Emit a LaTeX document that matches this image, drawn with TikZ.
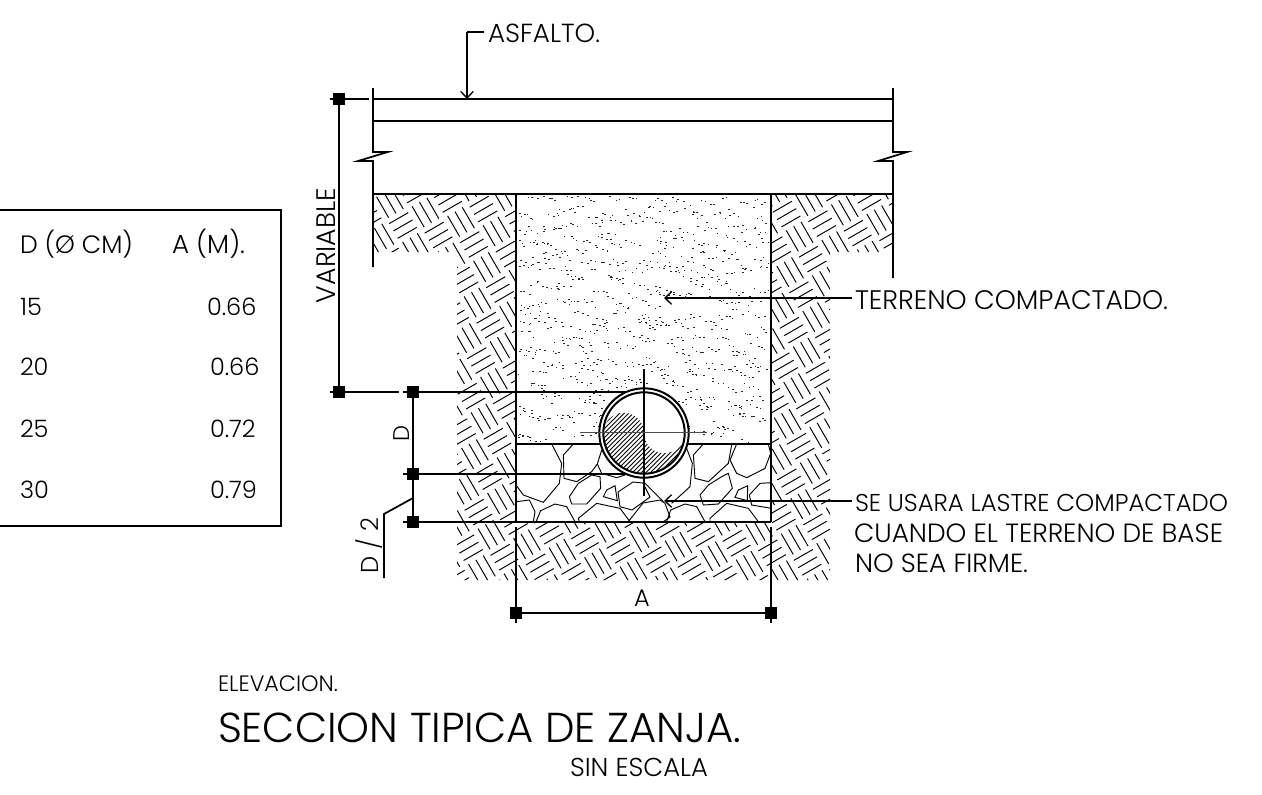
\documentclass[tikz,border=0pt]{standalone}
\usepackage{fontspec}
\usepackage{graphicx}
\setmainfont{Poppins Light}
\usetikzlibrary{arrows.meta}
\tikzset{
 px/.style={x=0.75pt,y=-0.75pt},
 med/.style={line width=1.3pt,line cap=butt},
 thick2/.style={line width=1.9pt},
 thin1/.style={line width=0.8pt},
 hatchln/.style={line width=0.72pt},
 rock/.style={line width=0.7pt,line join=miter},
 sq/.style={fill=black,minimum size=9pt,inner sep=0pt,outer sep=0pt},
 txt/.style={anchor=base west,inner sep=0pt,outer sep=0pt,text=black},
 barb/.style={-{Straight Barb[length=5pt,width=9.5pt,line width=1pt]}},
}
\newcommand{\fsz}[1]{\fontsize{#1}{#1}\selectfont}
\newcommand{\fit}[2]{\resizebox{\dimexpr #1pt*3/4\relax}{!}{\fsz{20}#2}}
\begin{document}
\begin{tikzpicture}[px]
\useasboundingbox (0,0) rectangle (1262,794);
\fill[white] (0,0) rectangle (1262,794);
% basket-weave soil hatch
\begin{scope}
\clip (373,194)--(516,194)--(516,522)--(771,522)--(771,194)--(893,194)--(893,252)--(830,252)--(830,580)--(457,580)--(457,252)--(373,252)--cycle;
\begin{scope}[shift={(663.3,390.4)},rotate=30]
\foreach \i in {-15,...,14}{\foreach \j in {-15,...,14}{
 \ifodd\numexpr\i+\j+100\relax
  \foreach \k in {4.5,13,21.5}{\draw[hatchln] (26*\i+2,26*\j+\k)--(26*\i+24,26*\j+\k);}
 \else
  \foreach \k in {4.5,13,21.5}{\draw[hatchln] (26*\i+\k,26*\j+1)--(26*\i+\k,26*\j+25);}
 \fi
}}
\end{scope}
\end{scope}
% compacted-soil speckle
\begin{scope}
\clip (518,196) rectangle (769,443);
\pgfmathsetseed{11}
\foreach \cxx in {0,1,...,16}{\foreach \cyy in {0,1,...,16}{
 \pgfmathsetmacro{\cx}{518+15*\cxx+8*rand}
 \pgfmathsetmacro{\cy}{196+15*\cyy+8*rand}
 \foreach \m in {1,...,4}{
  \pgfmathsetmacro{\dx}{(\m-2.5)*4+2.5*rand}
  \pgfmathsetmacro{\dy}{(\m-2.5)*1+3*rand}
  \fill[black!85] (\cx+\dx,\cy+\dy) rectangle +(1.6,1);
 }
}}
\end{scope}
% rocks, traced at 3x
\begin{scope}
\clip (516,444) rectangle (771,522);
\begin{scope}[shift={(510,440)},x=0.25pt,y=-0.25pt]
\draw[rock] (125,12)--(155,70)--(148,130)--(100,187)--(40,165)--(18,135);
\draw[rock] (190,12)--(160,45)--(162,115)--(200,125)--(245,95)--(262,72)--(275,30);
\draw[rock] (262,72)--(275,100)--(320,113)--(345,105);
\draw[rock] (245,105)--(270,110)--(272,145)--(230,192)--(185,192)--(178,170)--(205,130)--cycle;
\draw[rock] (315,137)--(322,182)--(280,170)--(290,150)--cycle;
\draw[rock] (20,185)--(58,180)--(75,215)--(70,245);
\draw[rock] (78,245)--(92,212)--(135,192)--(170,200)--(195,245);
\draw[rock] (208,245)--(205,235)--(260,190)--(330,205)--(360,245);
\draw[rock] (354,246)--(399,189)--(450,180)--(465,190)--(480,231)--(459,246);
\draw[rock] (369,126)--(399,129)--(420,171)--(366,210)--(330,200)--(324,156)--cycle;
\end{scope}
\begin{scope}[shift={(640,440)},x=0.25pt,y=-0.25pt]
\draw[rock] (15,130)--(70,185);
\draw[rock] (135,12)--(157,70)--(150,140)--(95,190);
\draw[rock] (190,12)--(160,45)--(165,115)--(205,125)--(265,70)--(275,15);
\draw[rock] (245,110)--(265,100)--(277,145)--(235,192)--(190,195)--(180,165)--(205,135)--cycle;
\draw[rock] (323,137)--(322,182)--(285,172)--(295,150)--cycle;
\draw[rock] (395,128)--(360,130)--(328,165)--(335,195)--(395,205);
\draw[rock] (290,12)--(270,60)--(290,100)--(320,113)--(375,85)--(392,40)--(385,12);
\draw[rock] (80,245)--(92,210)--(135,192)--(170,200)--(195,245);
\draw[rock] (210,245)--(210,235)--(260,190)--(325,205)--(355,245);
\end{scope}
\end{scope}
% road layers
\draw[med] (373,99)--(893,99);
\draw[med] (373,121)--(893,121);
\draw[med] (373,194)--(893,194);
\draw[med] (373,88)--(373,152)--(387.7,152)--(358,161)--(373,161)--(373,267);
\draw[med] (893,88)--(893,152)--(907,152)--(878,161)--(893,161)--(893,278);
% dimension squares
\node[sq] (sqtop) at (339,99) {};
\node[sq] (sqvar) at (339,392) {};
\node[sq] (sqd1) at (413,392) {};
\node[sq] (sqd2) at (413,474) {};
\node[sq] (sqd3) at (413,522) {};
\node[sq] (sqa1) at (516,613) {};
\node[sq] (sqa2) at (771,613) {};
\coordinate (toptickL) at (330,99); \coordinate (toptickR) at (369,99);
\coordinate (vartickL) at (330,392); \coordinate (vartickR) at (399,392);
\coordinate (d1L) at (403,392); \coordinate (d1R) at (632,392);
\coordinate (d2L) at (403,474); \coordinate (d2R) at (640,474);
\coordinate (d3L) at (403,522); \coordinate (d3R) at (516,522);
\draw[med] (toptickL)--(toptickR);
\draw[med] (sqtop.center)--(sqvar.center);
\draw[med] (vartickL)--(vartickR);
\draw[med] (d1L)--(d1R);
\draw[thick2] (d2L)--(d2R);
\draw[med] (d3L)--(d3R);
\draw[med] (sqd1.center)--(sqd3.center);
\draw[med] (sqa1.center)--(sqa2.center);
% trench
\draw[thick2] (516,194)--(516,522);
\draw[thick2] (771,194)--(771,522);
\draw[thick2] (516,522)--(771,522);
\draw[med] (516,444)--(771,444);
\draw[med] (516,527)--(516,623);
\draw[med] (771,527)--(771,623);
% D/2 leader
\coordinate (la) at (413,498); \coordinate (lb) at (384,514); \coordinate (lc) at (384,578);
\draw[med] (la)--(lb)--(lc);
% pipe
\coordinate (pipe) at (644,433);
\fill[white] (pipe) circle[radius=44.7];
\begin{scope}
\clip (603.5,433) arc[start angle=180,end angle=360,radius=20.25] arc[start angle=180,end angle=20,radius=20.25] -- (684.5,433) -- (684.5,490) -- (603.5,490) -- cycle;
\clip (pipe) circle[radius=40.5];
\foreach \s in {-60,-55.5,...,100}{\draw[line width=0.6pt] (604+\s,480)--(604+\s+70,410);}
\end{scope}
\draw[line width=1.5pt] (pipe) circle[radius=44.7];
\draw[line width=1.5pt] (pipe) circle[radius=40.7];
\draw[thin1] (644,369)--(644,496);
\draw[thin1,gray!60!black] (580,432.5)--(707,432.5);
% leaders
\coordinate (asf) at (467,32); \coordinate (asfe) at (484,32); \coordinate (asft) at (467,99);
\draw[med] (asfe)--(asf);
\draw[med,barb] (asf)--(asft);
\coordinate (tc) at (852,298); \coordinate (tct) at (664,298);
\draw[med,barb] (tc)--(tct);
\coordinate (lc1) at (852,501); \coordinate (lc2) at (664,501);
\draw[med,barb] (lc1)--(lc2);
% table frame
\draw[med] (-2,210)--(281,210)--(281,526)--(-2,526);
% texts
\node[txt] (tasf) at (488,42) {\fit{112}{ASFALTO.}};
\node[txt] (tter) at (855,309) {\fit{313}{TERRENO COMPACTADO.}};
\node[txt] (tl1) at (855,511) {\fit{373}{SE USARA LASTRE COMPACTADO}};
\node[txt] (tl2) at (854,542) {\fit{369}{CUANDO EL TERRENO DE BASE}};
\node[txt] (tl3) at (855,572) {\fit{173}{NO SEA FIRME.}};
\node[txt,rotate=90] (tvar) at (335,303) {\fit{115}{VARIABLE}};
\node[txt,rotate=90] (td) at (409,441) {\fit{16}{D}};
\node[txt,rotate=90] (td2) at (378,573) {\fit{55}{D / 2}};
\node[txt] (ta) at (634,606) {\fsz{18}A};
\node[txt] (h1) at (20,253) {\fit{113}{D (Ø CM)}};
\node[txt] (h2) at (172,253) {\fit{73}{A (M).}};
\node[txt] (r11) at (20,315) {\fsz{18}15};
\node[txt] (r12) at (207,315) {\fsz{18}0.66};
\node[txt] (r21) at (20,375) {\fsz{18}20};
\node[txt] (r22) at (210,375) {\fsz{18}0.66};
\node[txt] (r31) at (20,437) {\fsz{18}25};
\node[txt] (r32) at (210,437) {\fsz{18}0.72};
\node[txt] (r41) at (20,498) {\fsz{18}30};
\node[txt] (r42) at (210,498) {\fsz{18}0.79};
\node[txt] (t1) at (218,691) {\fit{120}{ELEVACION.}};
\node[txt] (t2) at (218,742) {\fit{523}{SECCION TIPICA DE ZANJA.}};
\node[txt] (t3) at (570,776) {\fit{138}{SIN ESCALA}};
\end{tikzpicture}
\end{document}
